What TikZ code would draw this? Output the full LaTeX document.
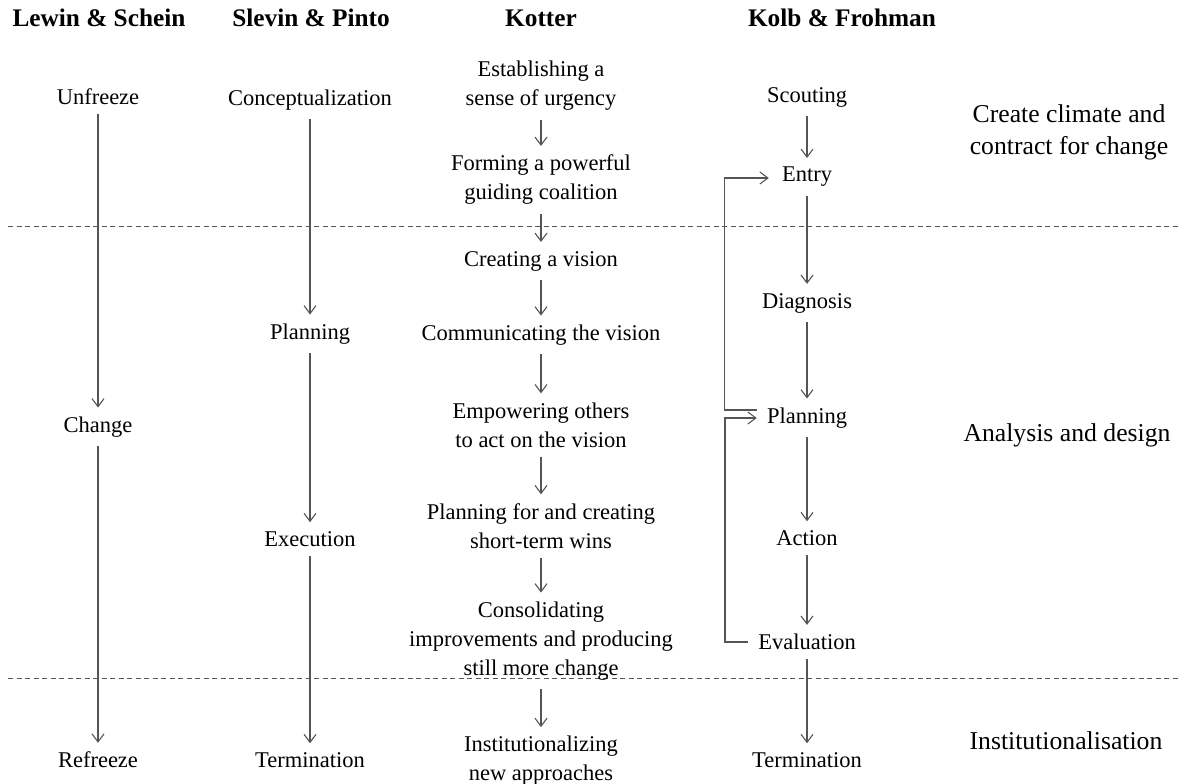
\documentclass[tikz,border=0pt]{standalone}
\usepackage{fontspec}
\setmainfont{Liberation Serif}
\usetikzlibrary{arrows.meta,calc}
\definecolor{lc}{HTML}{555555}
\tikzset{
  lbl/.style={font=\fontsize{22.5}{29}\selectfont, align=center, inner xsep=10pt, inner ysep=9pt, text=black},
  hdr/.style={font=\fontsize{25.3}{29}\selectfont\bfseries, inner sep=0pt},
  side/.style={font=\fontsize{25.7}{32}\selectfont, align=center, inner sep=0pt},
  arr/.style={draw=lc, line width=1.2pt, -{Straight Barb[length=8pt,width=12pt,line width=1.1pt]}},
  ln/.style={draw=lc, line width=1.2pt},
  sep/.style={draw=lc, line width=1pt, dash pattern=on 5pt off 3.5pt}
}
\begin{document}
\begin{tikzpicture}[x=1pt,y=-1pt]
\useasboundingbox (0,0) rectangle (1179,784);
% headers
\node[hdr] (h1) at (99,18) {Lewin \& Schein};
\node[hdr] (h2) at (311,18) {Slevin \& Pinto};
\node[hdr] (h3) at (541,18) {Kotter};
\node[hdr] (h4) at (842,18) {Kolb \& Frohman};
% separators
\coordinate (s1a) at (8,226); \coordinate (s1b) at (1179,226);
\coordinate (s2a) at (8,678); \coordinate (s2b) at (1179,678);
\draw[sep] (s1a) -- (s1b);
\draw[sep] (s2a) -- (s2b);
% side labels
\node[side] (r1) at (1069,132) {Create climate and\\contract for change};
\node[side] (r2) at (1067,435) {Analysis and design};
\node[side] (r3) at (1066,741) {Institutionalisation};
% Lewin
\node[lbl] (l1) at (98,97) {Unfreeze};
\node[lbl] (l2) at (98,427) {Change};
\node[lbl] (l3) at (98,760) {Refreeze};
\draw[arr] (l1) -- (l2);
\draw[arr] (l2) -- (l3);
% Slevin
\node[lbl] (p1) at (310,100) {Conceptualization};
\node[lbl] (p2) at (310,334) {Planning};
\node[lbl] (p3) at (310,539) {Execution};
\node[lbl] (p4) at (310,760) {Termination};
\draw[arr] (p1) -- (p2);
\draw[arr] (p2) -- (p3);
\draw[arr] (p3) -- (p4);
% Kotter
\node[lbl] (k1) at (541,86) {Establishing a\\sense of urgency};
\node[lbl] (k2) at (541,180) {Forming a powerful\\guiding coalition};
\node[lbl] (k3) at (541,261) {Creating a vision};
\node[lbl] (k4) at (541,335) {Communicating the vision};
\node[lbl] (k5) at (541,425) {Empowering others\\to act on the vision};
\node[lbl] (k6) at (541,526) {Planning for and creating\\short-term wins};
\node[lbl] (k7) at (541,641) {Consolidating\\improvements and producing\\still more change};
\node[lbl] (k8) at (541,761) {Institutionalizing\\new approaches};
\draw[arr] (k1) -- (k2);
\draw[arr] (k2) -- (k3);
\draw[arr] (k3) -- (k4);
\draw[arr] (k4) -- (k5);
\draw[arr] (k5) -- (k6);
\draw[arr] (k6) -- (k7);
\draw[arr] (k7) -- (k8);
% Kolb
\node[lbl] (f1) at (807,97) {Scouting};
\node[lbl] (f2) at (807,177) {Entry};
\node[lbl] (f3) at (807,303) {Diagnosis};
\node[lbl] (f4) at (807,418) {Planning};
\node[lbl] (f5) at (807,538) {Action};
\node[lbl] (f6) at (807,642) {Evaluation};
\node[lbl] (f7) at (807,760) {Termination};
\draw[arr] (f1) -- (f2);
\draw[arr] (f2) -- (f3);
\draw[arr] (f3) -- (f4);
\draw[arr] (f4) -- (f5);
\draw[arr] (f5) -- (f6);
\draw[arr] (f6) -- (f7);
% feedback loops
\coordinate (lb) at ($(f4.west)+(0,-8)$);
\coordinate (la) at ($(f4.west)+(0,0)$);
\draw[arr] (lb) -- ++(-32,0) |- ($(f2.west)+(-3,1)$);
\draw[arr] (f6.west) -- ++(-23,0) |- (la);
\end{tikzpicture}
\end{document}
